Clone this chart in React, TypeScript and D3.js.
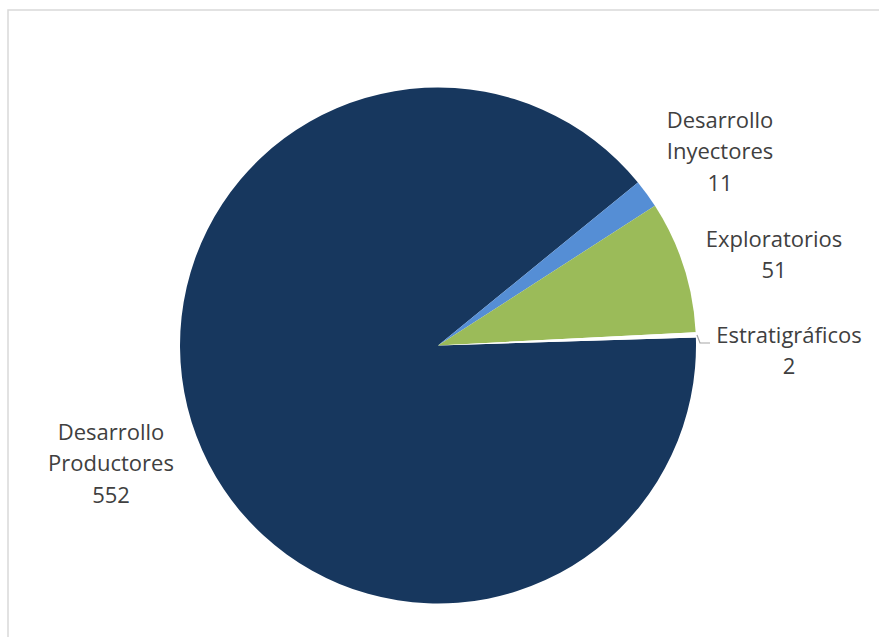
import React from "react";
import * as d3 from "d3";

const categories = ["Desarrollo Productores", "Desarrollo Inyectores", "Exploratorios", "Estratigráficos"];
const values = [552, 11, 51, 2];
const colors = ["#17375E", "#558ED5", "#9BBB59", "#FFFFFF"];
const labelLines = [
  ["Desarrollo", "Productores", "552"],
  ["Desarrollo", "Inyectores", "11"],
  ["Exploratorios", "51"],
  ["Estratigráficos", "2"],
];

const W = 879;
const H = 637;
const cx = 438;
const cy = 345.5;
const R = 258;
const startDeg = 88.2;

const labelPos = [
  { x: 111, y: 430.5 },
  { x: 720, y: 118.5 },
  { x: 774, y: 237.5 },
  { x: 789, y: 333.5 },
];

export default function App() {
  const pie = d3
    .pie<number>()
    .sort(null)
    .value((d) => d)
    .startAngle((startDeg * Math.PI) / 180)
    .endAngle(((startDeg + 360) * Math.PI) / 180);
  const arcs = pie(values);
  const arc = d3.arc<d3.PieArcDatum<number>>().innerRadius(0).outerRadius(R);
  const lineH = 31.5;

  return (
    <svg
      width={W}
      height={H}
      style={{ position: "absolute", left: 0, top: 0, background: "#fff" }}
    >
      <rect x={8} y={10} width={W + 20} height={H + 20} fill="#fff" stroke="#d9d9d9" strokeWidth={1.5} />
      <g transform={`translate(${cx},${cy})`}>
        {arcs.map((a, i) => (
          <path key={i} d={arc(a) || ""} fill={colors[i]} />
        ))}
      </g>
      <polyline points="697,335 700,343 710,343" fill="none" stroke="#a6a6a6" strokeWidth={1.2} />
      {labelLines.map((lines, i) => (
        <text
          key={i}
          textAnchor="middle"
          fontFamily="'Open Sans', 'Noto Sans', sans-serif"
          fontSize={22}
          fill="#404040"
        >
          {lines.map((l, j) => (
            <tspan key={j} x={labelPos[i].x} y={labelPos[i].y + j * lineH} dominantBaseline="central">
              {l}
            </tspan>
          ))}
        </text>
      ))}
    </svg>
  );
}
